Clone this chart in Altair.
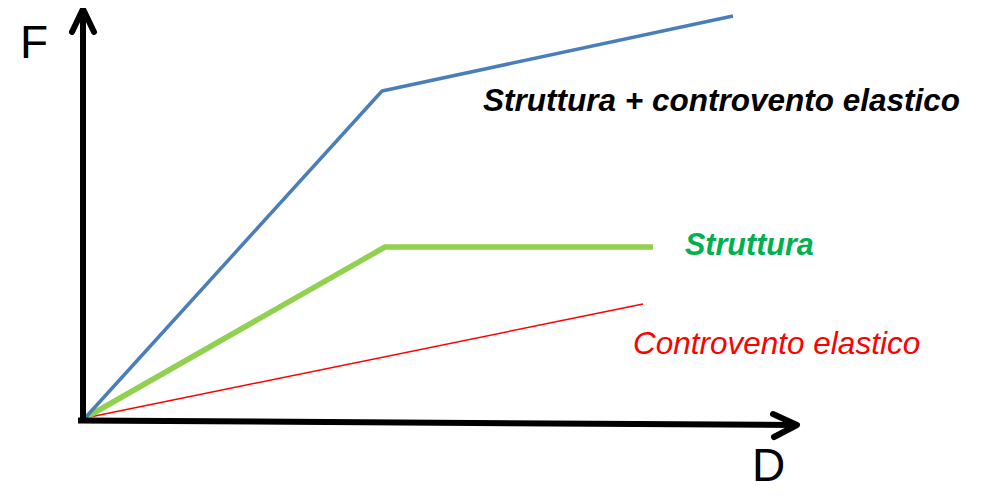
import altair as alt
import pandas as pd

# Curves (D, F) in arbitrary units, origin at (0, 0)
blue_x = [0, 297, 648]
blue_y = [0, 327, 402]
green_x = [0, 300, 568]
green_y = [0, 171, 171]
red_x = [0, 558]
red_y = [0, 114]

# Axis arrows
yaxis_x = [-2, -2]
yaxis_y = [-3, 408]
yhead_x = [-13, -2, 9]
yhead_y = [386, 409, 386]
xaxis_x = [-7, 711]
xaxis_y = [-2.5, -7]
xhead_x = [688, 712, 689]
xhead_y = [4, -7, -19]

labels = ["Struttura + controvento elastico", "Struttura", "Controvento elastico"]
label_x = [398, 600, 548]
label_y = [307, 163, 64]

X = alt.Scale(domain=[-77, 890], nice=False, zero=False)
Y = alt.Scale(domain=[-75, 410], nice=False, zero=False)


def df(xs, ys):
    return pd.DataFrame({"x": xs, "y": ys, "o": list(range(len(xs)))})


def line(xs, ys, color, width, cap="butt"):
    return alt.Chart(df(xs, ys)).mark_line(
        color=color, strokeWidth=width, strokeCap=cap, strokeJoin="round", clip=False
    ).encode(
        x=alt.X("x:Q", scale=X, axis=None),
        y=alt.Y("y:Q", scale=Y, axis=None),
        order="o:O",
    )


def text(t, x, y, color, size, weight="normal", style="normal"):
    d = pd.DataFrame({"t": [t], "x": [x], "y": [y]})
    return alt.Chart(d).mark_text(
        align="left", baseline="alphabetic", font="Liberation Sans",
        fontSize=size, fontWeight=weight, fontStyle=style, color=color,
    ).encode(
        x=alt.X("x:Q", scale=X, axis=None),
        y=alt.Y("y:Q", scale=Y, axis=None),
        text="t:N",
    )


layers = [
    line(red_x, red_y, "#FF0000", 1.5),
    line(green_x, green_y, "#92D050", 5.5),
    line(blue_x, blue_y, "#4A7EBB", 3.5),
    line(yaxis_x, yaxis_y, "black", 6),
    line(yhead_x, yhead_y, "black", 6, "round"),
    line(xaxis_x, xaxis_y, "black", 6),
    line(xhead_x, xhead_y, "black", 6, "round"),
    text(labels[0], label_x[0], label_y[0], "black", 31.5, "bold", "italic"),
    text(labels[1], label_x[1], label_y[1], "#00B050", 30.5, "bold", "italic"),
    text(labels[2], label_x[2], label_y[2], "#FF0000", 31.5, "normal", "italic"),
    text("F", -65, 360, "black", 46),
    text("D", 667, -63, "black", 46),
]

chart = alt.layer(*layers).properties(
    width=967, height=485, padding=0, autosize=alt.AutoSizeParams(type="none")
).configure_view(stroke=None)

chart.save("out.html", embed_options={"renderer": "svg", "actions": False})
